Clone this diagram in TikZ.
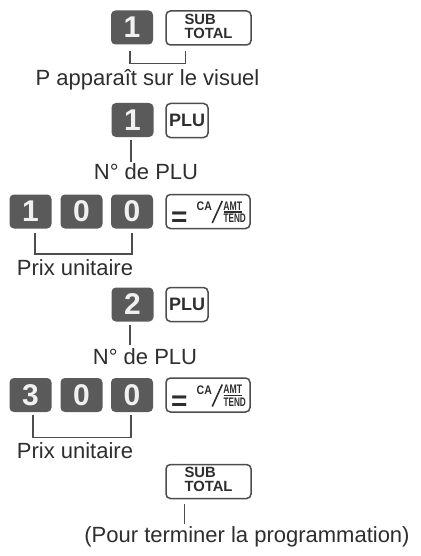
\documentclass[tikz,border=0pt]{standalone}
\usepackage{fontspec}
\setmainfont{Liberation Sans}
\usetikzlibrary{calc}
\definecolor{keyfill}{HTML}{5A5A5A}
\definecolor{edge}{HTML}{4D4D4D}
\definecolor{txt}{HTML}{2E2E2E}
\tikzset{
  dkey/.style={fill=keyfill, draw=none, rounded corners=2.2pt, minimum width=21pt, minimum height=17pt, inner sep=0pt, text=white!94!black, font=\bfseries\fontsize{15}{15}\selectfont},
  wkey/.style={fill=white, draw=edge, line width=0.75pt, rounded corners=2.2pt, minimum height=17pt, inner sep=0pt, text=txt},
  stkey/.style={wkey, minimum width=42.5pt, font=\bfseries\fontsize{7.4}{7.5}\selectfont},
  plukey/.style={wkey, minimum width=21pt, font=\bfseries\fontsize{9}{9}\selectfont},
  cakey/.style={wkey, minimum width=42pt},
  tiny/.style={inner sep=0pt, text=txt, font=\bfseries\fontsize{6.2}{6.2}\selectfont},
  lbl/.style={anchor=base, inner sep=0pt, text=txt, font=\fontsize{11}{13}\selectfont},
  link/.style={draw=edge, line width=0.6pt},
}
\newcommand{\stlabel}{\renewcommand{\arraystretch}{0.78}\begin{tabular}{@{}l@{}}SUB\\TOTAL\end{tabular}\hspace{3.5pt}}
\newcommand{\cakeycontent}[1]{%
  \node[inner sep=0pt, text=txt, font=\bfseries\fontsize{14}{14}\selectfont] (#1eq) at ($(#1.west)+(14,8)$) {=};
  \node[tiny] (#1ca) at ($(#1.west)+(39,-5)$) {\scalebox{0.85}[1]{CA}};
  \node[tiny] (#1amt) at ($(#1.west)+(67.5,-5.5)$) {\scalebox{0.7}[1]{AMT}};
  \node[tiny] (#1tend) at ($(#1.west)+(69.5,7)$) {\scalebox{0.66}[1]{TEND}};
  \draw[draw=txt, line width=0.55pt] ($(#1.west)+(58.5,0.5)$) -- ($(#1.west)+(77,0.5)$);
  \draw[draw=txt, line width=0.8pt] ($(#1.west)+(47,11.5)$) -- ($(#1.west)+(57,-10.5)$);
}
\begin{document}
\begin{tikzpicture}[x=0.5pt, y=-0.5pt]
\useasboundingbox (0,0) rectangle (420,556);
\fill[white] (0,0) rectangle (420,556);

% Row 1
\node[dkey] (k1a) at (132,27.5) {1};
\node[stkey] (st1) at (208.5,28) {\stlabel};
\draw[link] ($(k1a.south)+(-2,6)$) -- ($(k1a.south)+(-2,18.5)$) -| ($(st1.south west)+(20,5)$);
\node[lbl] (t1) at (147.5,86) {P apparaît sur le visuel};

% Row 2
\node[dkey] (k2a) at (132.5,120) {1};
\node[plukey] (plu1) at (187,120.5) {PLU};
\draw[link] ($(k2a.south)+(-1.5,3)$) -- ($(k2a.south)+(-1.5,25)$);
\node[lbl] (t2) at (146,179) {N° de PLU};

% Row 3
\node[dkey] (k3a) at (30.5,211.5) {1};
\node[dkey] (k3b) at (81.5,211.5) {0};
\node[dkey] (k3c) at (132,211.5) {0};
\node[cakey] (ca1) at (208,211.5) {};
\cakeycontent{ca1}
\draw[link] ($(k3a.south)+(4.5,4)$) -- ($(k3a.south)+(4.5,25)$) -| ($(k3c.south)+(0,4)$);
\node[lbl] (t3) at (75,275) {Prix unitaire};

% Row 4
\node[dkey] (k4a) at (132.5,304.5) {2};
\node[plukey] (plu2) at (187,304.5) {PLU};
\draw[link] ($(k4a.south)+(-2.5,3.5)$) -- ($(k4a.south)+(-2.5,23.5)$);
\node[lbl] (t4) at (145,364) {N° de PLU};

% Row 5
\node[dkey] (k5a) at (30.5,395) {3};
\node[dkey] (k5b) at (81.5,395) {0};
\node[dkey] (k5c) at (132,395) {0};
\node[cakey] (ca2) at (208,395) {};
\cakeycontent{ca2}
\draw[link] ($(k5a.south)+(2.5,3)$) -- ($(k5a.south)+(2.5,25)$) -| ($(k5c.south)+(-1,3)$);
\node[lbl] (t5) at (75,458) {Prix unitaire};

% Row 6
\node[stkey] (st2) at (208.5,481.5) {\stlabel};
\draw[link] ($(st2.south west)+(19,5)$) -- ($(st2.south west)+(19,25)$);
\node[lbl] (t6) at (247,542) {(Pour terminer la programmation)};
\end{tikzpicture}
\end{document}
